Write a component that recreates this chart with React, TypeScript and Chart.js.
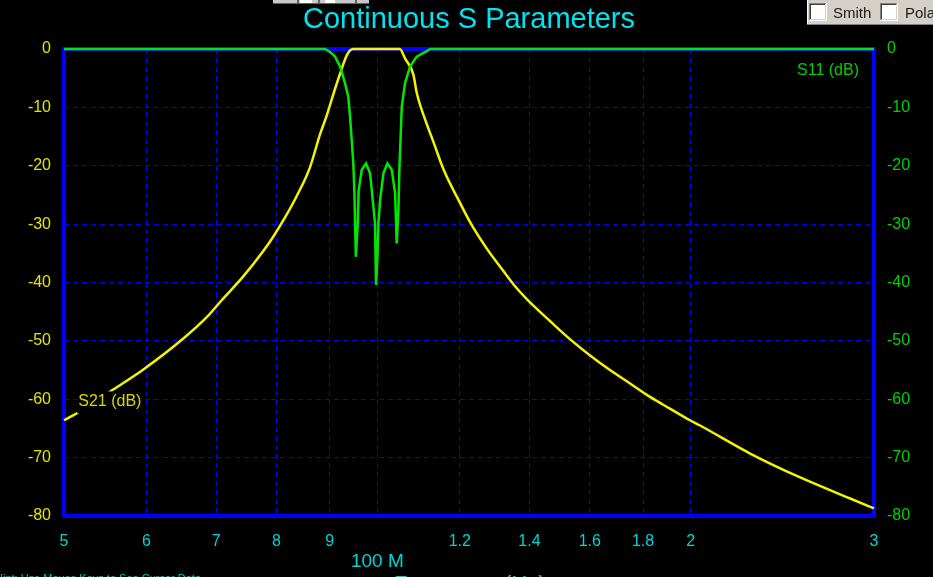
import React, { useEffect, useRef } from "react";
import { Chart, registerables } from "chart.js";

Chart.register(...registerables);

// ---- data (frequency in MHz, level in dB) ----
const s21Freq = [50, 51.8, 55.8, 59.6, 65.1, 68.6, 70.9, 74.3, 77.7, 79.4, 81.5, 83.6, 86.1, 88.1, 89.4, 90.7, 92.1, 93.5, 94.8, 105.1, 106.3, 108.3, 109.1, 111.2, 113.2, 115.8, 120.1, 122.8, 127.4, 132.1, 135.1, 139.1, 146.5, 153.1, 160.1, 167.3, 174.9, 182.8, 191.0, 199.7, 204.2, 228.1, 254.8, 284.6, 300];
const s21Db = [-63.6, -62.1, -58.3, -54.9, -49.6, -45.9, -43.0, -39.0, -34.6, -32.2, -28.9, -25.3, -20.4, -14.6, -11.4, -7.8, -4.2, -1.0, 0, 0, -1.6, -4.4, -7.5, -12.2, -15.9, -20.7, -26.4, -29.7, -34.2, -38.0, -40.3, -42.8, -46.6, -49.7, -52.5, -55.0, -57.3, -59.6, -61.6, -63.6, -64.5, -69.3, -73.4, -77.0, -78.7];

const s11Freq = [50, 89.06, 90.05, 91.07, 92.08, 93.11, 93.78, 94.14, 94.49, 94.82, 95.04, 95.35, 95.75, 95.95, 96.61, 97.53, 98.4, 98.99, 99.49, 99.71, 100.0, 100.23, 100.61, 101.35, 102.24, 103.24, 104.0, 104.38, 104.77, 104.99, 105.55, 106.3, 107.5, 109.1, 111.2, 112.4, 300];
const s11Db = [0, 0, -0.5, -1.3, -3.0, -5.9, -8.2, -11.6, -15.6, -19.6, -24.2, -35.6, -30.0, -24.2, -20.7, -19.6, -21.3, -25.9, -29.9, -40.4, -36.0, -29.9, -25.9, -21.3, -19.6, -20.7, -24.7, -33.3, -27.6, -20.7, -9.9, -5.9, -3.0, -1.3, -0.5, 0, 0];

const xTickValues = [50, 60, 70, 80, 90, 100, 120, 140, 160, 180, 200, 300];
const xTickLabels = ["5", "6", "7", "8", "9", "", "1.2", "1.4", "1.6", "1.8", "2", "3"];
const centerLabelFreq = 100;
const centerLabel = "100 M";

const yMin = -80;
const yMax = 0;
const yStep = 10;

const titleText = "Continuous S Parameters";
const s21Label = "S21 (dB)";
const s11Label = "S11 (dB)";
const hintText = "Hint: Use Mouse Keys to See Cursor Data";
const xAxisTitle = "Frequency (Hz)";

const FONT = '"Liberation Sans", Arial, sans-serif';

const W = 933;
const H = 577;

function drawCheckbox(ctx: CanvasRenderingContext2D, x: number, y: number, s: number) {
  ctx.fillStyle = "#ffffff";
  ctx.fillRect(x, y, s, s);
  ctx.fillStyle = "#808080";
  ctx.fillRect(x, y, s, 1);
  ctx.fillRect(x, y, 1, s);
  ctx.fillStyle = "#404040";
  ctx.fillRect(x + 1, y + 1, s - 2, 1);
  ctx.fillRect(x + 1, y + 1, 1, s - 2);
  ctx.fillStyle = "#ffffff";
  ctx.fillRect(x, y + s - 1, s, 1);
  ctx.fillRect(x + s - 1, y, 1, s);
  ctx.fillStyle = "#d4d0c8";
  ctx.fillRect(x + 1, y + s - 2, s - 2, 1);
  ctx.fillRect(x + s - 2, y + 1, 1, s - 2);
}

const decorPlugin = {
  id: "decor",
  beforeDraw(chart: any) {
    const ctx = chart.ctx as CanvasRenderingContext2D;
    ctx.save();
    ctx.fillStyle = "#000000";
    ctx.fillRect(0, 0, chart.width, chart.height);
    ctx.restore();
  },
  beforeDatasetsDraw(chart: any) {
    const ctx = chart.ctx as CanvasRenderingContext2D;
    const a = chart.chartArea;
    ctx.save();
    ctx.strokeStyle = "#0000ff";
    ctx.lineWidth = 4;
    ctx.strokeRect(a.left, a.top, a.right - a.left, a.bottom - a.top);
    ctx.restore();
  },
  afterDraw(chart: any) {
    const ctx = chart.ctx as CanvasRenderingContext2D;
    const a = chart.chartArea;
    const xs = chart.scales.x;
    const ys = chart.scales.y;
    ctx.save();

    // title
    ctx.fillStyle = "#00e4f0";
    ctx.font = `29px ${FONT}`;
    ctx.textAlign = "center";
    ctx.textBaseline = "alphabetic";
    ctx.fillText(titleText, (a.left + a.right) / 2, 28);

    // 100 M label under the axis
    ctx.fillStyle = "#00d4d8";
    ctx.font = `19px ${FONT}`;
    ctx.textAlign = "center";
    ctx.fillText(centerLabel, xs.getPixelForValue(centerLabelFreq), 567);

    // S21 label with black box behind
    const lx = xs.getPixelForValue(51.6);
    const ly = ys.getPixelForValue(-60.2);
    ctx.font = `16px ${FONT}`;
    const tw = ctx.measureText(s21Label).width;
    ctx.fillStyle = "#000000";
    ctx.fillRect(lx - 1, ly - 9, tw + 3, 22);
    ctx.fillStyle = "#d8d800";
    ctx.textAlign = "left";
    ctx.textBaseline = "middle";
    ctx.fillText(s21Label, lx, ly + 1);

    // S11 label
    ctx.fillStyle = "#00d000";
    ctx.textAlign = "right";
    ctx.textBaseline = "alphabetic";
    ctx.fillText(s11Label, a.right - 15, a.top + 26);

    // hint and axis title (cut at bottom edge)
    ctx.fillStyle = "#00c4c8";
    ctx.font = `11px ${FONT}`;
    ctx.textAlign = "left";
    ctx.fillText(hintText, -5, 582);
    ctx.fillStyle = "#00d4d8";
    ctx.font = `22px ${FONT}`;
    ctx.fillText(xAxisTitle, 394, 591);

    // top-right checkbox panel
    ctx.fillStyle = "#d4d0c8";
    ctx.fillRect(807, 0, W - 807, 25);
    ctx.fillStyle = "#ffffff";
    ctx.fillRect(807, 0, 1, 25);
    ctx.fillStyle = "#808080";
    ctx.fillRect(807, 24, W - 807, 1);
    drawCheckbox(ctx, 809, 3, 18);
    drawCheckbox(ctx, 880, 3, 18);
    ctx.fillStyle = "#1a1a1a";
    ctx.font = `15px ${FONT}`;
    ctx.textAlign = "left";
    ctx.textBaseline = "alphabetic";
    ctx.fillText("Smith", 833, 18);
    ctx.fillText("Polar", 905, 18);

    // small control stub at top
    ctx.fillStyle = "#c8c8c8";
    ctx.fillRect(273, 0, 96, 4);
    ctx.fillStyle = "#ffffff";
    ctx.fillRect(300, 0, 12, 3);
    ctx.fillRect(325, 0, 10, 3);
    ctx.fillStyle = "#606060";
    ctx.fillRect(273, 3, 96, 1);
    ctx.fillRect(297, 0, 2, 3);
    ctx.fillRect(318, 0, 2, 3);
    ctx.fillRect(355, 0, 2, 3);

    ctx.restore();
  },
};

export default function App() {
  const canvasRef = useRef<HTMLCanvasElement | null>(null);

  useEffect(() => {
    if (!canvasRef.current) return;
    const s21Points = s21Freq.map((f, i) => ({ x: f, y: s21Db[i] }));
    const s11Points = s11Freq.map((f, i) => ({ x: f, y: s11Db[i] }));

    const chart = new Chart(canvasRef.current, {
      type: "line",
      data: {
        datasets: [
          {
            label: "S11",
            data: s11Points,
            borderColor: "#00e800",
            borderWidth: 2.5,
            pointRadius: 0,
            tension: 0,
            clip: false as any,
            order: 0,
            yAxisID: "y",
          },
          {
            label: "S21",
            data: s21Points,
            borderColor: "#f4f400",
            borderWidth: 2.5,
            pointRadius: 0,
            cubicInterpolationMode: "monotone",
            clip: false as any,
            order: 1,
            yAxisID: "y",
          },
        ],
      },
      options: {
        animation: false,
        responsive: false,
        devicePixelRatio: 1,
        parsing: true,
        layout: { padding: { top: 49, left: 0, right: 0, bottom: 0 } },
        plugins: {
          legend: { display: false },
          title: { display: false },
          tooltip: { enabled: false },
        },
        events: [],
        scales: {
          x: {
            type: "logarithmic",
            min: 50,
            max: 300,
            afterBuildTicks: (scale: any) => {
              scale.ticks = xTickValues.map((v) => ({ value: v }));
            },
            afterFit: (scale: any) => {
              scale.height = 61;
            },
            grid: { color: "#0000ff", lineWidth: 1, drawTicks: false },
            border: { display: false, dash: [5, 4] },
            ticks: {
              color: "#00d4d8",
              font: { size: 16, family: FONT },
              padding: 16,
              maxRotation: 0,
              autoSkip: false,
              callback: (value: any) => {
                const i = xTickValues.indexOf(Number(value));
                return i >= 0 ? xTickLabels[i] : "";
              },
            },
          },
          y: {
            type: "linear",
            position: "left",
            min: yMin,
            max: yMax,
            afterFit: (scale: any) => {
              scale.width = 64;
            },
            grid: { color: "#0000ff", lineWidth: 1, drawTicks: false },
            border: { display: false, dash: [5, 4] },
            ticks: {
              stepSize: yStep,
              color: "#e4e400",
              font: { size: 16, family: FONT },
              padding: 13,
            },
          },
          y2: {
            type: "linear",
            position: "right",
            min: yMin,
            max: yMax,
            afterFit: (scale: any) => {
              scale.width = 59;
            },
            grid: { display: false, drawTicks: false },
            border: { display: false },
            ticks: {
              stepSize: yStep,
              color: "#00d000",
              font: { size: 16, family: FONT },
              padding: 13,
            },
          },
        },
      } as any,
      plugins: [decorPlugin],
    });

    return () => {
      chart.destroy();
    };
  }, []);

  return (
    <div
      style={{
        position: "fixed",
        left: 0,
        top: 0,
        width: W,
        height: H,
        background: "#000",
        overflow: "hidden",
      }}
    >
      <canvas ref={canvasRef} width={W} height={H} style={{ display: "block", width: W, height: H }} />
    </div>
  );
}
